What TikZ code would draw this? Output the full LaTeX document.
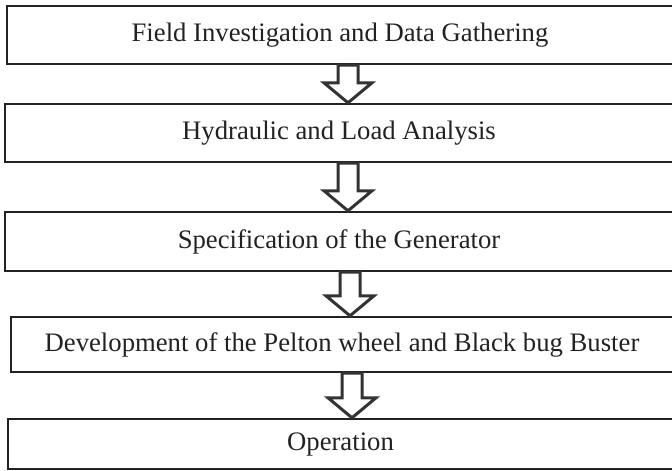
\documentclass[tikz,border=0pt]{standalone}
\usepackage{fontspec}
\setmainfont{Liberation Serif}
\usetikzlibrary{calc}
\definecolor{ink}{HTML}{222222}
\definecolor{arrowink}{HTML}{333333}
\tikzset{
  stepbox/.style={draw=ink, line width=2.4pt, rectangle, inner sep=0pt,
    text=ink, font=\fontsize{26.7}{30}\selectfont},
  flowarr/.style={draw=arrowink, line width=3pt, fill=white, line join=miter},
}
\begin{document}
\begin{tikzpicture}[x=1pt,y=-1pt]
  \useasboundingbox (0,0) rectangle (672,471);
  % process steps
  \node[stepbox, minimum width=666, minimum height=58] (s1) at (340,35)
    {Field Investigation and Data Gathering};
  \node[stepbox, minimum width=668, minimum height=58] (s2) at (339,133)
    {Hydraulic and Load Analysis};
  \node[stepbox, minimum width=668, minimum height=59] (s3) at (339,241.5)
    {Specification of the Generator};
  \node[stepbox, minimum width=662, minimum height=55] (s4) at (342,344.5)
    {Development of the Pelton wheel and Black bug Buster};
  \node[stepbox, minimum width=665, minimum height=50] (s5) at (340.5,444)
    {Operation};
  % horizontal positions of the block arrows
  \coordinate (c1) at (348,0);
  \coordinate (c2) at (348,0);
  \coordinate (c3) at (350,0);
  \coordinate (c4) at (352,0);
  % hollow block arrows between consecutive steps
  \foreach \a/\b/\c in {s1/s2/c1, s2/s3/c2, s3/s4/c3, s4/s5/c4}{
    \draw[flowarr]
      ($(\a.south -| \c)+(-10,0)$) -- ($(\b.north -| \c)+(-10,-20)$)
      -- ++(-14,0) -- (\b.north -| \c) -- ++(24,-20) -- ++(-14,0)
      -- ($(\a.south -| \c)+(10,0)$) -- cycle;
  }
\end{tikzpicture}
\end{document}
